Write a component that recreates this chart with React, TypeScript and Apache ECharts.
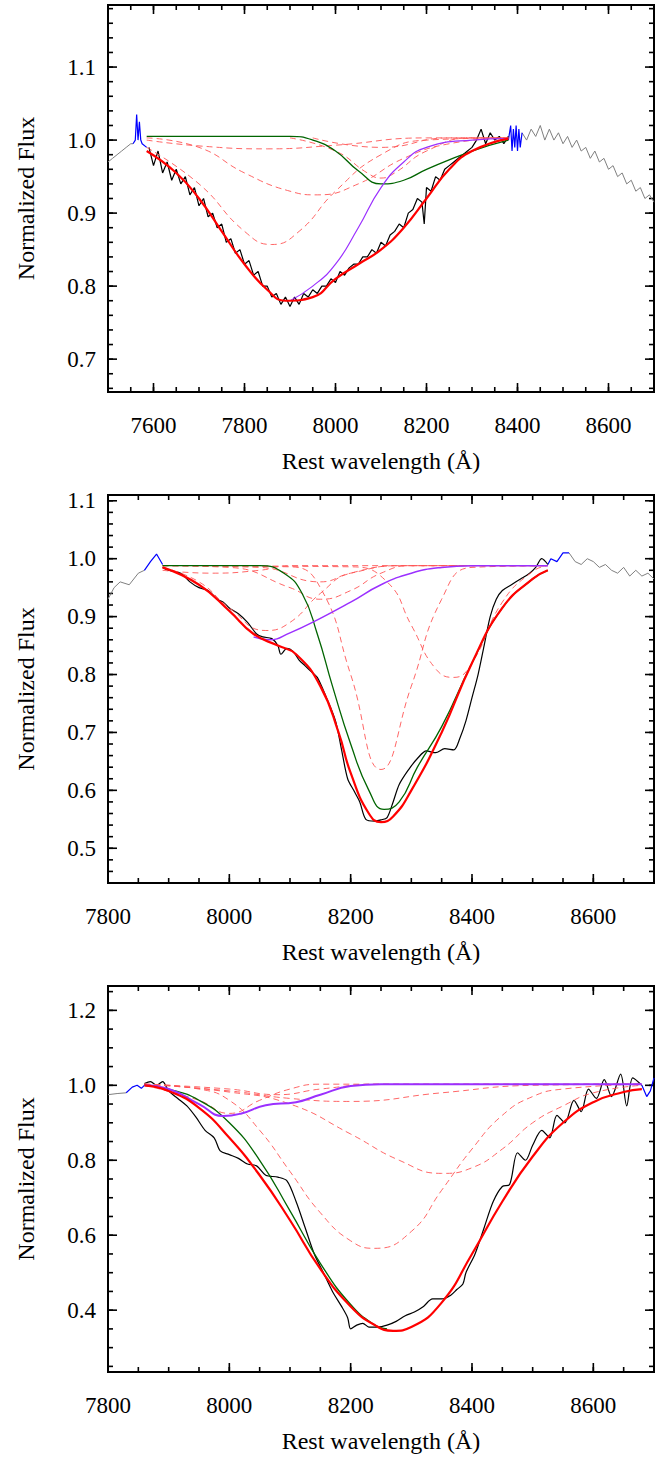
import React, { useEffect, useRef } from "react";
import * as echarts from "echarts";

// ---------- Panel 1 ----------
const p1Gray = [[7500,.97],[7510,.975],[7520,.98],[7530,.985],[7540,.99],[7550,.995],[7555,.995]];
const p1GrayR = [[8410,1.01],[8420,1.0],[8430,1.015],[8440,1.005],[8450,1.02],[8460,1.0],[8470,1.015],[8480,1.0],[8490,1.01],[8500,.995],[8510,1.005],[8520,.99],[8530,1.0],[8540,.985],[8550,.99],[8560,.975],[8570,.985],[8580,.97],[8590,.975],[8600,.96],[8610,.965],[8620,.95],[8630,.955],[8640,.94],[8650,.945],[8660,.93],[8670,.935],[8680,.92],[8690,.925],[8700,.915]];
const p1Blue = [[7555,.995],[7560,1.0],[7563,1.035],[7566,1.0],[7569,1.025],[7572,1.0],[7575,.995],[7585,.99]];
const p1BlueR = [[8380,1.0],[8385,1.02],[8388,.985],[8391,1.015],[8394,.99],[8397,1.02],[8400,.985],[8403,1.015],[8406,.99],[8410,1.01]];
const p1Black = [[7590,.99],[7600,.965],[7610,.985],[7620,.955],[7630,.97],[7640,.945],[7650,.96],[7660,.94],[7670,.95],[7680,.925],[7690,.935],[7700,.91],[7710,.92],[7720,.895],[7730,.9],[7740,.88],[7750,.885],[7760,.86],[7770,.865],[7780,.845],[7790,.85],[7800,.83],[7810,.835],[7820,.815],[7830,.82],[7840,.8],[7850,.8],[7860,.785],[7870,.79],[7880,.775],[7890,.785],[7900,.772],[7910,.785],[7920,.775],[7930,.79],[7940,.785],[7950,.795],[7960,.79],[7970,.8],[7980,.8],[7990,.81],[8000,.805],[8010,.82],[8020,.815],[8030,.825],[8040,.83],[8050,.83],[8060,.84],[8070,.84],[8080,.85],[8090,.845],[8100,.86],[8110,.855],[8120,.87],[8130,.875],[8140,.885],[8150,.88],[8160,.9],[8170,.905],[8180,.92],[8190,.915],[8195,.885],[8200,.935],[8210,.93],[8220,.95],[8230,.945],[8240,.96],[8250,.965],[8260,.97],[8270,.975],[8280,.98],[8290,.985],[8300,.99],[8310,1.0],[8320,1.015],[8330,.995],[8340,1.01],[8350,1.0],[8360,1.005],[8370,.995],[8380,1.005]];
const p1Fit = [[7585,.985],[7650,.955],[7700,.92],[7750,.875],[7800,.83],[7850,.795],[7890,.78],[7950,.785],[8000,.81],[8050,.83],[8100,.85],[8150,.88],[8200,.92],[8250,.96],[8300,.985],[8380,1.002]];
const p1Purple = [[7900,.78],[7950,.8],[8000,.83],[8050,.88],[8100,.935],[8150,.97],[8200,.99],[8300,1.0],[8380,1.002]];
const p1Green = [[7585,1.005],[7900,1.005],[7950,1.0],[8000,.985],[8050,.958],[8100,.94],[8150,.945],[8200,.96],[8300,.985],[8380,1.0]];
const p1Comps = [
  [[7585,.99],[7700,.94],[7800,.875],[7860,.857],[7920,.875],[8000,.93],[8100,.98],[8200,1.0],[8380,1.003]],
  [[7585,1.003],[7700,.99],[7800,.955],[7900,.93],[7960,.925],[8050,.94],[8150,.975],[8250,.995],[8380,1.003]],
  [[7585,1.0],[7700,.992],[7850,.988],[8000,.993],[8200,1.003],[8380,1.003]],
  [[7900,1.003],[8000,.985],[8070,.955],[8100,.948],[8130,.955],[8200,.985],[8300,1.003],[8380,1.003]],
  [[7950,1.003],[8100,.99],[8250,1.003],[8380,1.003]],
];

// ---------- Panel 2 ----------
const p2Gray = [[7800,.93],[7810,.95],[7820,.96],[7835,.955],[7850,.975],[7860,.98]];
const p2GrayR = [[8560,1.01],[8570,.995],[8580,.99],[8590,1.0],[8600,.995],[8610,.985],[8620,.99],[8630,.98],[8640,.975],[8650,.985],[8660,.97],[8670,.98],[8680,.97],[8690,.975],[8700,.965]];
const p2Blue = [[7860,.98],[7870,.995],[7880,1.008],[7890,.99]];
const p2BlueR = [[8525,.99],[8530,1.0],[8540,.995],[8550,1.01],[8560,1.01]];
const p2Black = [[7890,.985],[7900,.98],[7920,.975],[7935,.96],[7950,.95],[7965,.945],[7980,.93],[7990,.925],[8000,.915],[8015,.905],[8030,.89],[8045,.87],[8055,.865],[8070,.862],[8080,.85],[8085,.835],[8095,.845],[8105,.84],[8115,.825],[8125,.815],[8135,.805],[8145,.795],[8160,.76],[8175,.72],[8185,.67],[8195,.62],[8205,.6],[8215,.58],[8225,.55],[8240,.547],[8250,.549],[8260,.553],[8270,.58],[8280,.61],[8295,.635],[8310,.655],[8325,.668],[8340,.665],[8355,.672],[8370,.67],[8380,.69],[8390,.72],[8400,.76],[8410,.8],[8420,.85],[8430,.9],[8440,.93],[8450,.945],[8465,.955],[8480,.965],[8495,.975],[8505,.985],[8515,1.0],[8525,.99]];
const p2Fit = [[7890,.985],[7950,.955],[8000,.91],[8040,.87],[8080,.85],[8110,.835],[8150,.78],[8180,.7],[8200,.63],[8230,.56],[8250,.545],[8270,.555],[8300,.6],[8350,.7],[8400,.82],[8450,.915],[8500,.965],[8525,.98]];
const p2Green = [[7890,.988],[8050,.988],[8090,.975],[8120,.94],[8145,.87],[8170,.78],[8200,.68],[8230,.6],[8255,.567],[8280,.58],[8310,.64],[8350,.71],[8400,.82],[8450,.915],[8500,.965],[8525,.98]];
const p2Purple = [[8040,.865],[8065,.86],[8100,.872],[8150,.897],[8200,.925],[8250,.955],[8300,.975],[8350,.985],[8400,.988],[8525,.988]];
const p2Comps = [
  [[7890,.985],[7950,.96],[8000,.915],[8060,.876],[8100,.89],[8150,.94],[8200,.975],[8300,.988],[8525,.988]],
  [[7890,.988],[8100,.986],[8150,.95],[8200,.8],[8250,.636],[8300,.78],[8350,.93],[8400,.985],[8525,.988]],
  [[7890,.988],[8200,.986],[8260,.96],[8300,.885],[8340,.81],[8370,.795],[8400,.82],[8450,.925],[8500,.978],[8525,.988]],
  [[7890,.988],[8000,.985],[8100,.95],[8150,.93],[8200,.945],[8250,.975],[8300,.988],[8525,.988]],
  [[7890,.988],[8050,.985],[8150,.96],[8200,.975],[8280,.988],[8525,.988]],
  [[7890,.98],[7970,.975],[8050,.98],[8100,.988],[8525,.988]],
];

// ---------- Panel 3 ----------
const p3Gray = [[7800,.975],[7815,.978],[7830,.98]];
const p3Blue = [[7830,.98],[7840,.995],[7848,1.0],[7855,.992],[7862,1.003]];
const p3BlueR = [[8680,1.0],[8688,.97],[8694,.985],[8700,1.02]];
const p3Black = [[7860,1.005],[7870,1.01],[7880,1.0],[7890,1.01],[7900,.985],[7915,.965],[7930,.945],[7945,.915],[7960,.88],[7975,.86],[7985,.825],[8000,.815],[8015,.805],[8030,.79],[8045,.785],[8060,.76],[8080,.755],[8095,.745],[8110,.69],[8125,.62],[8140,.55],[8155,.5],[8170,.45],[8185,.41],[8195,.38],[8200,.35],[8210,.36],[8220,.365],[8230,.355],[8245,.355],[8260,.36],[8275,.37],[8290,.385],[8305,.395],[8320,.41],[8335,.43],[8350,.43],[8365,.44],[8375,.455],[8385,.47],[8390,.5],[8405,.55],[8420,.62],[8435,.69],[8450,.73],[8462,.735],[8475,.82],[8488,.8],[8500,.84],[8515,.88],[8528,.86],[8540,.92],[8553,.9],[8568,.96],[8580,.93],[8592,.99],[8605,.965],[8618,1.015],[8630,.97],[8645,1.03],[8655,.945],[8665,1.02],[8680,1.0]];
const p3Fit = [[7860,1.0],[7900,.985],[7950,.94],[8000,.86],[8050,.76],[8100,.64],[8150,.51],[8200,.41],[8240,.36],[8270,.345],[8300,.355],[8350,.42],[8400,.55],[8450,.69],[8500,.81],[8550,.9],[8600,.955],[8650,.982],[8680,.99]];
const p3Green = [[7860,1.0],[7900,.99],[7950,.96],[8000,.9],[8050,.8],[8100,.665],[8150,.525],[8200,.415],[8240,.36],[8260,.35]];
const p3Purple = [[7860,1.0],[7900,.99],[7950,.95],[7990,.918],[8020,.925],[8060,.947],[8110,.955],[8150,.975],[8200,.998],[8250,1.003],[8680,1.003]];
const p3Comps = [
  [[7860,1.003],[7950,.99],[8000,.96],[8050,.88],[8100,.77],[8150,.66],[8200,.585],[8240,.565],[8300,.61],[8350,.72],[8400,.83],[8450,.92],[8500,.97],[8550,.99],[8680,1.003]],
  [[7860,1.003],[8000,.982],[8100,.95],[8200,.87],[8280,.8],[8350,.765],[8400,.78],[8450,.83],[8500,.9],[8550,.945],[8600,.98],[8680,1.0]],
  [[7860,1.0],[7950,.96],[8000,.925],[8050,.96],[8100,.99],[8150,1.003],[8680,1.003]],
  [[7860,1.003],[8000,.985],[8100,.965],[8200,.957],[8350,.98],[8500,1.0],[8680,1.003]],
  [[7860,1.003],[8000,.99],[8080,.975],[8150,.99],[8250,1.003],[8680,1.003]],
];

// tick ranges: [first, last, step]
const X_MAJOR_1 = [7600, 8600, 200];
const X_MINOR_1 = [7500, 8700, 50];
const X_MAJOR_23 = [7800, 8600, 200];
const X_MINOR_23 = [7800, 8700, 50];
const Y_MAJOR_1 = [0.7, 1.1, 0.1];
const Y_MINOR_1 = [0.66, 1.18, 0.02];
const Y_MAJOR_2 = [0.5, 1.1, 0.1];
const Y_MINOR_2 = [0.44, 1.1, 0.02];
const Y_MAJOR_3 = [0.4, 1.2, 0.2];
const Y_MINOR_3 = [0.25, 1.25, 0.05];

const FONT = "23px 'Liberation Serif', 'DejaVu Serif', serif";
const NAME_FONT = "24px 'Liberation Serif', 'DejaVu Serif', serif";
const L = 108, R = 654;

function ticks(r: number[], major: boolean) {
  const out: number[][] = [];
  const n = Math.round((r[1] - r[0]) / r[2]);
  for (let i = 0; i <= n; i++) out.push([+(r[0] + i * r[2]).toFixed(4), major ? 1 : 0]);
  return out;
}

export default function App() {
  const ref = useRef<HTMLDivElement>(null);
  useEffect(() => {
    const chart = echarts.init(ref.current!, null, { renderer: "svg" });
    const panels = [
      { top: 5, h: 387, xmin: 7500, xmax: 8700, ymin: 0.655, ymax: 1.185, xM: X_MAJOR_1, xm: X_MINOR_1, yM: Y_MAJOR_1, ym: Y_MINOR_1 },
      { top: 495, h: 388, xmin: 7800, xmax: 8700, ymin: 0.44, ymax: 1.11, xM: X_MAJOR_23, xm: X_MINOR_23, yM: Y_MAJOR_2, ym: Y_MINOR_2 },
      { top: 986, h: 386, xmin: 7800, xmax: 8700, ymin: 0.235, ymax: 1.265, xM: X_MAJOR_23, xm: X_MINOR_23, yM: Y_MAJOR_3, ym: Y_MINOR_3 },
    ];
    const grid: any[] = [], xAxis: any[] = [], yAxis: any[] = [], series: any[] = [], graphic: any[] = [];
    panels.forEach((p, gi) => {
      grid.push({ left: L, width: R - L, top: p.top, height: p.h, show: true, borderColor: "#000", borderWidth: 2 });
      xAxis.push({ type: "value", gridIndex: gi, min: p.xmin, max: p.xmax, show: false });
      yAxis.push({ type: "value", gridIndex: gi, min: p.ymin, max: p.ymax, show: false });
      const add = (data: number[][], color: string, width: number, smooth: boolean | number = false, dashed = false) =>
        series.push({ type: "line", xAxisIndex: gi, yAxisIndex: gi, data, showSymbol: false, symbol: "none", smooth,
          lineStyle: { color, width, type: dashed ? [6, 4] : "solid" }, clip: true });
      const sets = gi === 0
        ? { gray: [p1Gray, p1GrayR], blue: [p1Blue, p1BlueR], black: p1Black, comps: p1Comps, green: p1Green, purple: p1Purple, fit: p1Fit, pw: 1.2 }
        : gi === 1
        ? { gray: [p2Gray, p2GrayR], blue: [p2Blue, p2BlueR], black: p2Black, comps: p2Comps, green: p2Green, purple: p2Purple, fit: p2Fit, pw: 1.5 }
        : { gray: [p3Gray], blue: [p3Blue, p3BlueR], black: p3Black, comps: p3Comps, green: p3Green, purple: p3Purple, fit: p3Fit, pw: 2 };
      sets.gray.forEach((d) => add(d, "#808080", 1));
      sets.blue.forEach((d) => add(d, "#0000ff", 1.2));
      add(sets.black, "#000", 1.2, gi === 0 ? false : 0.3);
      sets.comps.forEach((d) => add(d, "#ff5555", 0.9, 0.5, true));
      add(sets.green, "#006400", 1.3, 0.5);
      add(sets.purple, "#9b30ff", sets.pw, 0.5);
      add(sets.fit, "#ff0000", 2.2, 0.5);
      // x ticks + labels
      series.push({
        type: "custom", xAxisIndex: gi, yAxisIndex: gi, silent: true, clip: false,
        data: [...ticks(p.xm, false), ...ticks(p.xM, true)],
        renderItem: (params: any, api: any) => {
          const v = api.value(0), major = api.value(1) === 1;
          const pt = api.coord([v, p.ymin]);
          const cs = params.coordSys;
          const len = major ? 9 : 5;
          const x = pt[0], yb = cs.y + cs.height, yt = cs.y;
          const children: any[] = [
            { type: "line", shape: { x1: x, y1: yb, x2: x, y2: yb - len }, style: { stroke: "#000", lineWidth: 1.6 } },
            { type: "line", shape: { x1: x, y1: yt, x2: x, y2: yt + len }, style: { stroke: "#000", lineWidth: 1.6 } },
          ];
          if (major) children.push({ type: "text", x, y: yb + 22, style: { text: String(v), font: FONT, fill: "#000", textAlign: "center", textVerticalAlign: "top", align: "center", verticalAlign: "top" } });
          return { type: "group", children };
        },
      });
      // y ticks + labels
      series.push({
        type: "custom", xAxisIndex: gi, yAxisIndex: gi, silent: true, clip: false,
        data: [...ticks(p.ym, false).map((d) => [p.xmin, d[0], d[1]]), ...ticks(p.yM, true).map((d) => [p.xmin, d[0], d[1]])],
        renderItem: (params: any, api: any) => {
          const v = api.value(1), major = api.value(2) === 1;
          const pt = api.coord([p.xmin, v]);
          const cs = params.coordSys;
          const len = major ? 9 : 5;
          const y = pt[1], xl = cs.x, xr = cs.x + cs.width;
          const children: any[] = [
            { type: "line", shape: { x1: xl, y1: y, x2: xl + len, y2: y }, style: { stroke: "#000", lineWidth: 1.6 } },
            { type: "line", shape: { x1: xr, y1: y, x2: xr - len, y2: y }, style: { stroke: "#000", lineWidth: 1.6 } },
          ];
          if (major) children.push({ type: "text", x: xl - 12, y, style: { text: v.toFixed(1), font: FONT, fill: "#000", textAlign: "right", textVerticalAlign: "middle", align: "right", verticalAlign: "middle" } });
          return { type: "group", children };
        },
      });
      // axis titles
      graphic.push({ type: "text", x: (L + R) / 2, y: p.top + p.h + 57, style: { text: "Rest wavelength (Å)", font: NAME_FONT, fill: "#000", align: "center", verticalAlign: "top" } });
      graphic.push({ type: "text", x: 26, y: p.top + p.h / 2, rotation: Math.PI / 2, style: { text: "Normalized Flux", font: NAME_FONT, fill: "#000", align: "center", verticalAlign: "middle" } });
    });
    chart.setOption({ animation: false, backgroundColor: "#fff", grid, xAxis, yAxis, series, graphic });
    return () => chart.dispose();
  }, []);
  return <div ref={ref} style={{ position: "absolute", left: 0, top: 0, width: 660, height: 1463 }} />;
}
